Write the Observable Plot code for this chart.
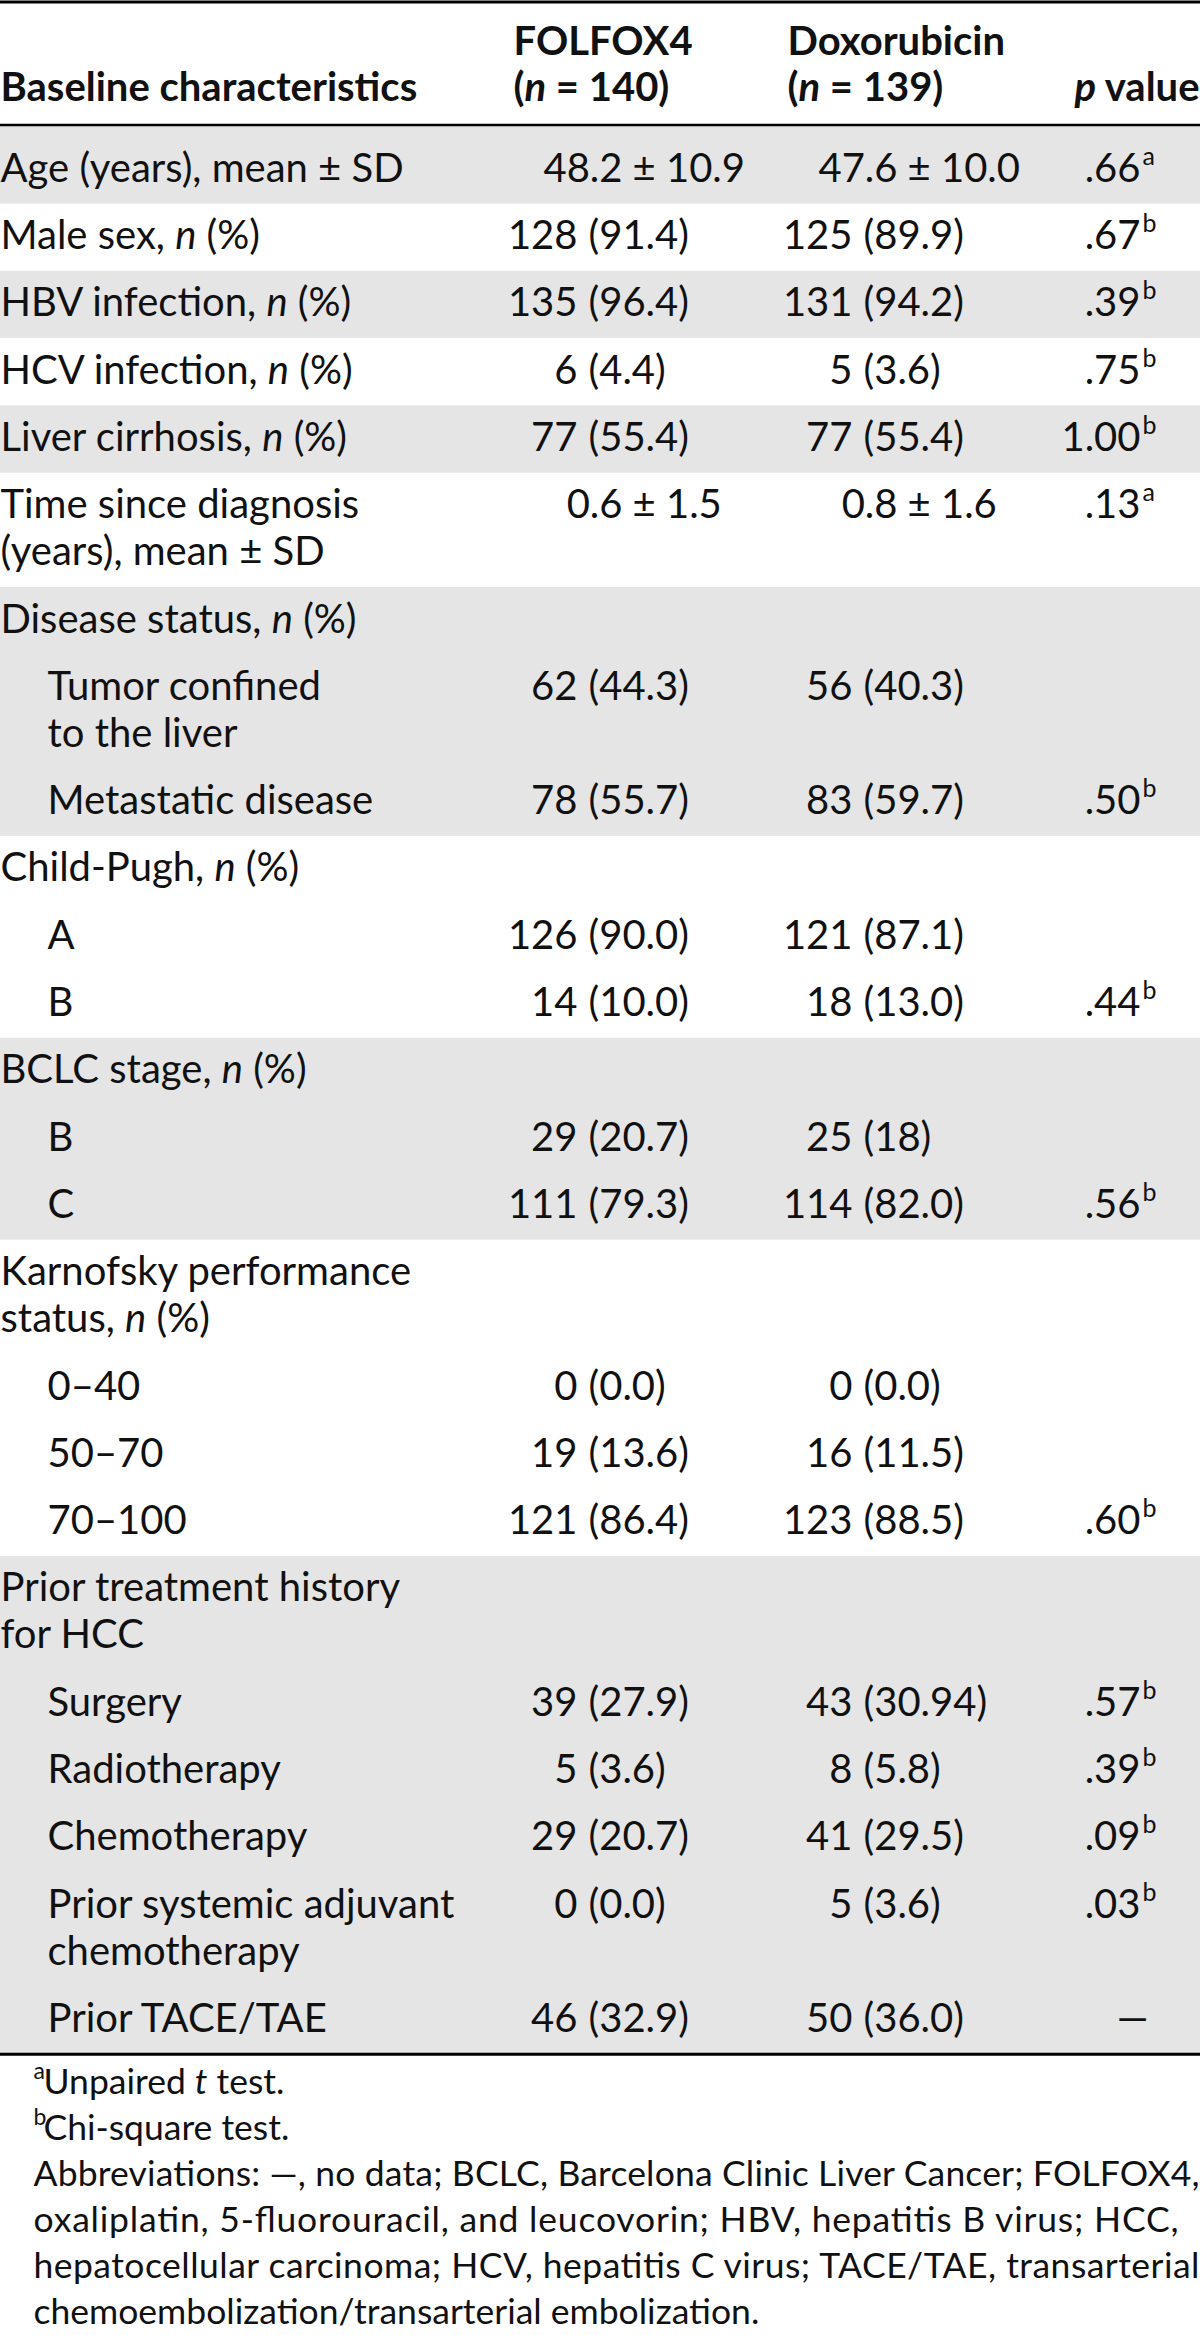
<!DOCTYPE html>
<html>
<head>
<meta charset="utf-8">
<script src="https://cdn.jsdelivr.net/npm/d3@7"></script>
<script src="https://cdn.jsdelivr.net/npm/@observablehq/plot@0.6"></script>
<style>
  body { margin: 0; background: #fff; }
  svg text { white-space: pre; }
</style>
</head>
<body>
<div id="chart"></div>
<script>
// ---------------- DATA ----------------
const headerLabel = "Baseline characteristics";
const armNames = ["FOLFOX4", "Doxorubicin"];
const armSizes = ["(_n_ = 140)", "(_n_ = 139)"];
const pHeader = "_p_ value";

const characteristics = [
  "Age (years), mean ± SD",
  "Male sex, _n_ (%)",
  "HBV infection, _n_ (%)",
  "HCV infection, _n_ (%)",
  "Liver cirrhosis, _n_ (%)",
  "Time since diagnosis\n(years), mean ± SD",
  "Disease status, _n_ (%)",
  "Tumor confined\nto the liver",
  "Metastatic disease",
  "Child-Pugh, _n_ (%)",
  "A",
  "B",
  "BCLC stage, _n_ (%)",
  "B",
  "C",
  "Karnofsky performance\nstatus, _n_ (%)",
  "0–40",
  "50–70",
  "70–100",
  "Prior treatment history\nfor HCC",
  "Surgery",
  "Radiotherapy",
  "Chemotherapy",
  "Prior systemic adjuvant\nchemotherapy",
  "Prior TACE/TAE"
];
const indented = [0,0,0,0,0,0,0,1,1,0,1,1,0,1,1,0,1,1,1,0,1,1,1,1,1];
const sections = [0,1,2,3,4,5,6,6,6,7,7,7,8,8,8,9,9,9,9,10,10,10,10,10,10];
const folfox4 = [
  "48.2 ± 10.9", "128 (91.4)", "135 (96.4)", "6 (4.4)", "77 (55.4)", "0.6 ± 1.5",
  "", "62 (44.3)", "78 (55.7)",
  "", "126 (90.0)", "14 (10.0)",
  "", "29 (20.7)", "111 (79.3)",
  "", "0 (0.0)", "19 (13.6)", "121 (86.4)",
  "", "39 (27.9)", "5 (3.6)", "29 (20.7)", "0 (0.0)", "46 (32.9)"
];
const doxorubicin = [
  "47.6 ± 10.0", "125 (89.9)", "131 (94.2)", "5 (3.6)", "77 (55.4)", "0.8 ± 1.6",
  "", "56 (40.3)", "83 (59.7)",
  "", "121 (87.1)", "18 (13.0)",
  "", "25 (18)", "114 (82.0)",
  "", "0 (0.0)", "16 (11.5)", "123 (88.5)",
  "", "43 (30.94)", "8 (5.8)", "41 (29.5)", "5 (3.6)", "50 (36.0)"
];
const pValues = [
  ".66", ".67", ".39", ".75", "1.00", ".13",
  "", "", ".50",
  "", "", ".44",
  "", "", ".56",
  "", "", "", ".60",
  "", ".57", ".39", ".09", ".03", "—"
];
const pTests = [
  "a", "b", "b", "b", "b", "a",
  "", "", "b",
  "", "", "b",
  "", "", "b",
  "", "", "", "b",
  "", "b", "b", "b", "b", ""
];
const footnoteMarks = ["a", "b"];
const footnoteTexts = ["Unpaired _t_ test.", "Chi-square test."];
const abbreviations = [
  "Abbreviations: —, no data; BCLC, Barcelona Clinic Liver Cancer; FOLFOX4,",
  "oxaliplatin, 5-fluorouracil, and leucovorin; HBV, hepatitis B virus; HCC,",
  "hepatocellular carcinoma; HCV, hepatitis C virus; TACE/TAE, transarterial",
  "chemoembolization/transarterial embolization."
];

// ---------------- LAYOUT ----------------
const W = 1200, H = 2335;
const FONT = "Lato, 'Open Sans', sans-serif";
const FS = 40, FS_NOTE = 35.5, FS_SUP = 25;
const INK = "#111";
const SHADE = "#e5e5e5";
const ROW = 67.3, LINE = 47, BASE = 45;
const HEAD_RULE = 124.5, FIRST_PAD = 10.7;
const col = {
  label: 0, indent: 47,
  arm: [513, 787],
  nEnd: [577, 852], pctStart: [588, 863],
  pmLeftEnd: [622, 897], pmRightStart: [632, 907],
  pEnd: 1140, supStart: 1142, pHeadEnd: 1199
};
const headBase = [54, 100];

let yCursor = HEAD_RULE + 1;
const rows = characteristics.map((lab, i) => {
  const lines = lab.split("\n");
  const pad = i === 0 ? FIRST_PAD : 0;
  const top = yCursor;
  const h = ROW + (lines.length - 1) * LINE + pad;
  yCursor += h;
  return {i, lines, top, bottom: top + h, base: top + pad + BASE};
});
const tableBottom = yCursor;

const bands = d3.groups(rows, r => sections[r.i])
  .filter(([s]) => s % 2 === 0)
  .map(([s, rs]) => ({y1: rs[0].top, y2: rs[rs.length - 1].bottom, x1: 0, x2: W}));

const labelLines = rows.flatMap(r => r.lines.map((t, k) => ({
  text: t, x: indented[r.i] ? col.indent : col.label, y: r.base + k * LINE
})));

const startTexts = [], endTexts = [];
[folfox4, doxorubicin].forEach((arr, c) => {
  rows.forEach(r => {
    const v = arr[r.i];
    if (!v) return;
    if (v.includes("±")) {
      const [a, b] = v.split(" ±");
      endTexts.push({text: a, x: col.pmLeftEnd[c], y: r.base});
      startTexts.push({text: "±" + b, x: col.pmRightStart[c], y: r.base});
    } else {
      const k = v.indexOf(" (");
      endTexts.push({text: v.slice(0, k), x: col.nEnd[c], y: r.base});
      startTexts.push({text: v.slice(k + 1), x: col.pctStart[c], y: r.base});
    }
  });
});
rows.forEach(r => {
  if (pValues[r.i]) endTexts.push({text: pValues[r.i], x: pValues[r.i] === "—" ? col.pEnd + 8 : col.pEnd, y: r.base});
});
const supTexts = rows.filter(r => pTests[r.i]).map(r => ({text: pTests[r.i], x: col.supStart, y: r.base - 17}));

const headStart = [
  {text: headerLabel, x: col.label, y: headBase[1]},
  ...armNames.map((t, c) => ({text: t, x: col.arm[c], y: headBase[0]})),
  ...armSizes.map((t, c) => ({text: t, x: col.arm[c], y: headBase[1]}))
];
const headEnd = [{text: pHeader, x: col.pHeadEnd, y: headBase[1]}];

const rules = [
  {y: 1.5, w: 3},
  {y: HEAD_RULE, w: 2.5},
  {y: tableBottom, w: 3}
];

const noteBase0 = tableBottom + 40;
const NOTE_LINE = 46;
const noteTexts = footnoteTexts.map((t, k) => ({text: t, x: 43, y: noteBase0 + k * NOTE_LINE}));
const noteSups = footnoteMarks.map((t, k) => ({text: t, x: 33, y: noteBase0 + k * NOTE_LINE - 15}));
const abbrTexts = abbreviations.map((t, k) => ({text: t, x: 33, y: noteBase0 + (k + 2) * NOTE_LINE}));
const justify = [1166, 1145, 1166];

// ---------------- PLOT ----------------
const txt = (data, opts) => Plot.text(data, {x: "x", y: "y", text: "text", lineAnchor: "bottom", fill: INK, fontSize: FS, ...opts});

const chart = Plot.plot({
  width: W, height: H,
  margin: 0,
  x: {type: "identity", axis: null},
  y: {type: "identity", axis: null},
  style: {background: "#fff", fontFamily: FONT, color: INK},
  marks: [
    Plot.rect(bands, {x1: "x1", x2: "x2", y1: "y1", y2: "y2", fill: SHADE}),
    Plot.ruleY(rules, {y: "y", x1: 0, x2: W, stroke: "#000", strokeWidth: d => d.w}),
    txt(headStart, {textAnchor: "start", fontWeight: "bold"}),
    txt(headEnd, {textAnchor: "end", fontWeight: "bold"}),
    txt(labelLines, {textAnchor: "start"}),
    txt(startTexts, {textAnchor: "start"}),
    txt(endTexts, {textAnchor: "end"}),
    txt(supTexts, {textAnchor: "start", fontSize: FS_SUP}),
    txt(noteTexts, {textAnchor: "start", fontSize: FS_NOTE}),
    txt(noteSups, {textAnchor: "start", fontSize: 23}),
    txt(abbrTexts, {textAnchor: "start", fontSize: FS_NOTE})
  ]
});

// italic fragments marked with _..._ and justified abbreviation lines
const NS = "http://www.w3.org/2000/svg";
chart.querySelectorAll("text").forEach(t => {
  const s = t.textContent;
  const j = abbreviations.indexOf(s);
  if (j >= 0 && j < justify.length) {
    t.setAttribute("textLength", justify[j]);
    t.setAttribute("lengthAdjust", "spacing");
  }
  if (s.includes("_")) {
    t.textContent = "";
    s.split("_").forEach((part, k) => {
      if (!part) return;
      const ts = document.createElementNS(NS, "tspan");
      ts.textContent = part;
      if (k % 2) ts.setAttribute("font-style", "italic");
      t.appendChild(ts);
    });
  }
});

document.getElementById("chart").appendChild(chart);
</script>
</body>
</html>
